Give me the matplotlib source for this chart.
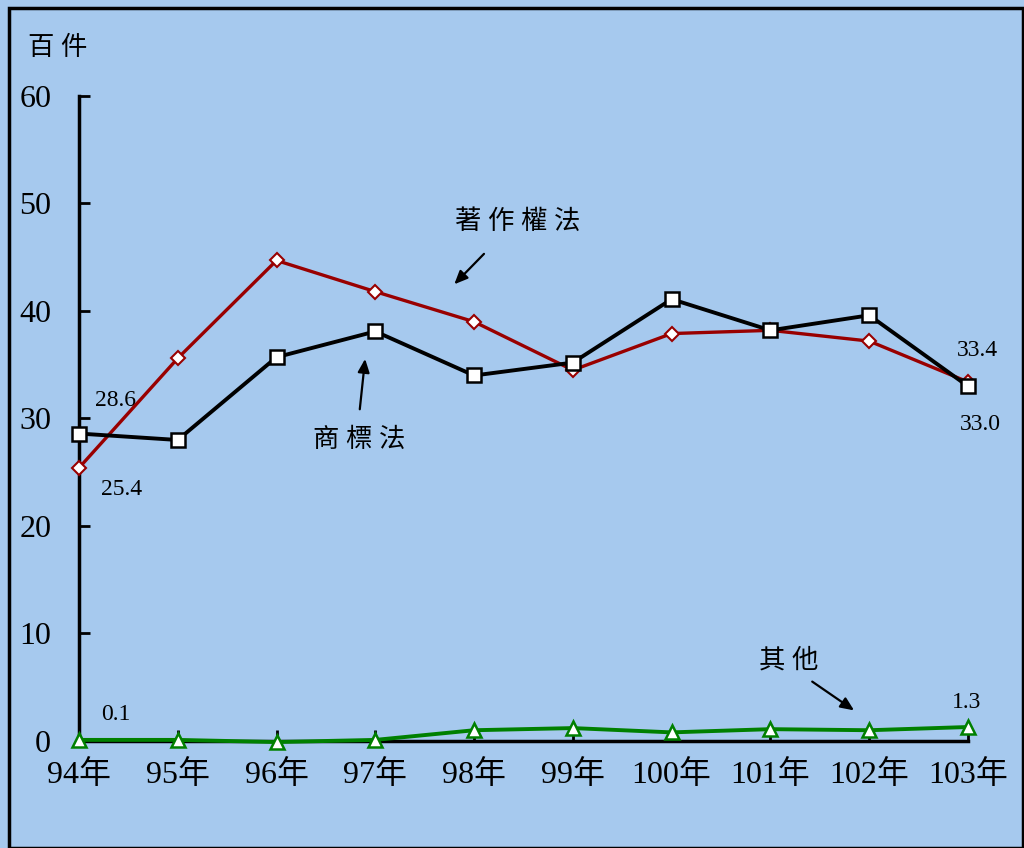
import matplotlib
matplotlib.use("Agg")
from matplotlib import pyplot as plt
from matplotlib.patches import Rectangle

plt.rcParams['font.family'] = ['Liberation Serif', 'Noto Sans CJK TC', 'DejaVu Sans']

# 資料
years = ['94年', '95年', '96年', '97年', '98年', '99年', '100年', '101年', '102年', '103年']
trademark = [28.6, 28.0, 35.7, 38.1, 34.0, 35.2, 41.1, 38.2, 39.6, 33.0]   # 商標法
copyright_ = [25.4, 35.6, 44.7, 41.8, 39.0, 34.5, 37.9, 38.2, 37.2, 33.4]  # 著作權法
others = [0.1, 0.1, -0.1, 0.1, 1.0, 1.2, 0.8, 1.1, 1.0, 1.3]              # 其他
yticks = [0, 10, 20, 30, 40, 50, 60]

bg = '#A6C9EE'
fig = plt.figure(figsize=(10.24, 8.48), dpi=100, facecolor=bg)
ax = fig.add_axes([0.0771, 0.1262, 0.8682, 0.7606])
ax.set_facecolor(bg)

x = list(range(len(years)))
ax.plot(x, others, color='#008000', lw=2.8, marker='^', ms=9.5, mfc='white',
        mec='#008000', mew=1.8, zorder=3, clip_on=False)
ax.plot(x, copyright_, color='#990000', lw=2.4, marker='D', ms=7, mfc='white',
        mec='#990000', mew=1.5, zorder=4, clip_on=False)
ax.plot(x, trademark, color='black', lw=2.8, marker='s', ms=10.5, mfc='white',
        mec='black', mew=1.8, zorder=5, clip_on=False)

ax.set_xlim(0, 9)
ax.set_ylim(0, 60)
ax.set_xticks(x)
ax.set_xticklabels(years)
ax.set_yticks(yticks)
for s in ['top', 'right']:
    ax.spines[s].set_visible(False)
for s in ['left', 'bottom']:
    ax.spines[s].set_linewidth(2.5)
ax.tick_params(axis='y', direction='in', length=8, width=2, labelsize=23, pad=20)
ax.tick_params(axis='x', direction='in', length=8, width=2, labelsize=23, pad=14)

# 數值標籤
lab = dict(fontsize=17, ha='center', va='center')
ax.text(0.375, 31.7, '28.6', **lab)
ax.text(0.43, 23.35, '25.4', **lab)
ax.text(9.10, 36.3, '33.4', clip_on=False, **lab)
ax.text(9.13, 29.4, '33.0', clip_on=False, **lab)
ax.text(0.375, 2.5, '0.1', **lab)
ax.text(8.99, 3.6, '1.3', **lab)

# 系列說明
arr = dict(arrowstyle='-|>,head_length=0.8,head_width=0.35', color='black', lw=1.6)
ax.text(4.44, 48.3, '著 作 權 法', fontsize=19, ha='center', va='center')
ax.annotate('', xy=(3.78, 42.3), xytext=(4.12, 45.5), arrowprops=arr)
ax.text(2.84, 28.0, '商 標 法', fontsize=19, ha='center', va='center')
ax.annotate('', xy=(2.90, 35.8), xytext=(2.84, 30.6), arrowprops=arr)
ax.text(7.18, 7.5, '其 他', fontsize=19, ha='center', va='center')
ax.annotate('', xy=(7.87, 2.7), xytext=(7.40, 5.67), arrowprops=arr)

fig.text(0.0566, 0.943, '百 件', fontsize=19, ha='center', va='center')

fig.patches.append(Rectangle((0.009, 0.0), 0.99, 0.99, transform=fig.transFigure,
                             fill=False, edgecolor='black', lw=2.5))

plt.savefig('out.png', dpi=100, facecolor=bg)
